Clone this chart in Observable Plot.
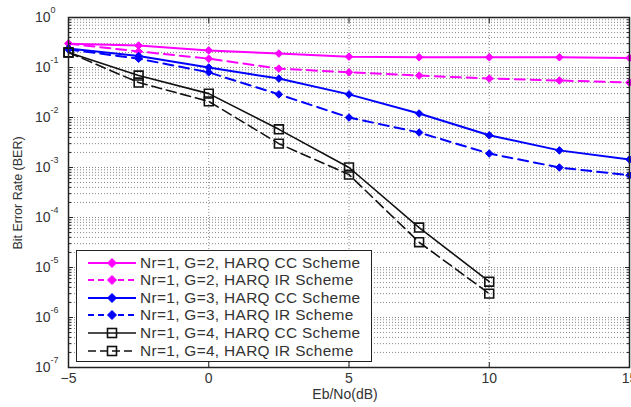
<!DOCTYPE html>
<html><head><meta charset="utf-8">
<script src="https://cdn.jsdelivr.net/npm/d3@7"></script>
<script src="https://cdn.jsdelivr.net/npm/@observablehq/plot@0.6"></script>
<style>
body{margin:0;background:#fff;font-family:"Liberation Sans",Arial,Helvetica,sans-serif;}
#wrap{position:relative;width:631px;height:407px;overflow:hidden;}
#legend{position:absolute;left:76px;top:250px;width:296px;height:112px;border:1.5px solid #222;background:#fff;box-sizing:border-box;}
.row{position:absolute;left:0;height:16px;}
.row svg{position:absolute;left:9px;top:0;}
.row span{position:absolute;left:63px;top:0;font-size:14px;line-height:16px;color:#333;white-space:nowrap;letter-spacing:0.3px;transform:scaleX(1.1);transform-origin:0 50%;}
#xlab{position:absolute;left:295px;width:100px;top:386px;text-align:center;font-size:14px;color:#333;}
#ylab{position:absolute;left:18px;top:193px;transform:translate(-50%,-50%) rotate(-90deg);font-size:12.5px;color:#333;white-space:nowrap;}
</style></head><body><div id="wrap"></div>
<script>
// Eb/No (dB) sample points
const ebno = [-5, -2.5, 0, 2.5, 5, 7.5, 10, 12.5, 15];
// BER values
const g2CC = [0.30, 0.275, 0.22, 0.19, 0.165, 0.16, 0.16, 0.16, 0.155];
const g2IR = [0.30, 0.21, 0.15, 0.095, 0.08, 0.069, 0.06, 0.055, 0.05];
const g3CC = [0.24, 0.17, 0.10, 0.06, 0.029, 0.012, 0.0044, 0.0022, 0.00145];
const g3IR = [0.23, 0.15, 0.08, 0.029, 0.01, 0.005, 0.0019, 0.001, 0.0007];
const g4CC = [0.20, 0.069, 0.03, 0.0058, 0.001, 6.3e-5, 5.2e-6];
const g4IR = [0.20, 0.05, 0.021, 0.003, 0.00072, 3.2e-5, 3.0e-6];
const seriesNames = [
  "Nr=1, G=2, HARQ CC Scheme",
  "Nr=1, G=2, HARQ IR Scheme",
  "Nr=1, G=3, HARQ CC Scheme",
  "Nr=1, G=3, HARQ IR Scheme",
  "Nr=1, G=4, HARQ CC Scheme",
  "Nr=1, G=4, HARQ IR Scheme"
];
const xTicks = [-5, 0, 5, 10, 15];
const yExponents = [0, -1, -2, -3, -4, -5, -6, -7];

const styles = [
  {color: "#ff00ff", dash: null, symbol: "diamond2", width: 2},
  {color: "#ff00ff", dash: "10,6", symbol: "diamond2", width: 2},
  {color: "#0000ff", dash: null, symbol: "diamond2", width: 2},
  {color: "#0000ff", dash: "10,6", symbol: "diamond2", width: 2},
  {color: "#111111", dash: null, symbol: "square", width: 1.6},
  {color: "#111111", dash: "10,5", symbol: "square", width: 1.6}
];
const allSeries = [g2CC, g2IR, g3CC, g3IR, g4CC, g4IR];
const tables = allSeries.map((vals, i) => vals.map((v, j) => ({x: ebno[j], y: v, s: seriesNames[i]})));

const majors = yExponents.map(e => Math.pow(10, e));
const minors = [];
for (let e = -7; e < 0; e++) for (let m = 2; m <= 9; m++) minors.push(m * Math.pow(10, e));
const gridY = majors.concat(minors);
const sup = e => String(e);

const marks = [
  Plot.ruleY(gridY, {stroke: "#8a8a8a", strokeDasharray: "1,2", strokeWidth: 1}),
  Plot.ruleX([0, 5, 10], {stroke: "#8a8a8a", strokeDasharray: "1,2", strokeWidth: 1})
];
tables.forEach((t, i) => {
  const st = styles[i];
  marks.push(Plot.line(t, {x: "x", y: "y", stroke: st.color, strokeWidth: st.width, strokeDasharray: st.dash}));
});
tables.forEach((t, i) => {
  const st = styles[i];
  if (st.symbol === "square") {
    marks.push(Plot.dot(t, {x: "x", y: "y", symbol: "square", r: 5, fill: "none", stroke: st.color, strokeWidth: 1.6}));
  } else {
    marks.push(Plot.dot(t, {x: "x", y: "y", symbol: "diamond2", r: 3.4, fill: st.color, stroke: st.color, strokeWidth: 1}));
  }
});
marks.push(
  Plot.frame({stroke: "#222", strokeWidth: 1.5}),
  Plot.axisX({anchor: "bottom", ticks: xTicks, tickSize: 0, tickPadding: 6, fontSize: 14, label: null, color: "#333"}),
  Plot.axisX({anchor: "bottom", ticks: xTicks, tickSize: -5, tickFormat: () => "", label: null, stroke: "#222"}),
  Plot.axisX({anchor: "top", ticks: xTicks, tickSize: -5, tickFormat: () => "", label: null, stroke: "#222"}),
  Plot.axisY({anchor: "left", ticks: majors, tickSize: -5, tickFormat: () => "", label: null, stroke: "#222"}),
  Plot.axisY({anchor: "right", ticks: majors, tickSize: -5, tickFormat: () => "", label: null, stroke: "#222"}),
  Plot.axisY({anchor: "left", ticks: minors, tickSize: -3, tickFormat: () => "", label: null, stroke: "#222"}),
  Plot.axisY({anchor: "right", ticks: minors, tickSize: -3, tickFormat: () => "", label: null, stroke: "#222"}),
  Plot.text(majors, {x: () => -5, y: d => d, text: () => "10", textAnchor: "end", dx: -18, fontSize: 14, fill: "#333"}),
  Plot.text(majors, {x: () => -5, y: d => d, text: d => sup(Math.round(Math.log10(d))), textAnchor: "start", dx: -18, dy: -7, fontSize: 9, fill: "#333"})
);

const chart = Plot.plot({
  width: 631, height: 407,
  marginLeft: 68, marginRight: 2, marginTop: 17, marginBottom: 40,
  style: {fontFamily: '"Liberation Sans", Arial, sans-serif', background: "#fff", overflow: "hidden"},
  x: {domain: [-5, 15]},
  y: {type: "log", domain: [1e-7, 1]},
  marks
});
const wrap = document.getElementById("wrap");
wrap.appendChild(chart);

// legend
const legend = document.createElement("div");
legend.id = "legend";
const rowTops = [4, 21, 39, 56, 74, 92];
seriesNames.forEach((name, i) => {
  const st = styles[i];
  const row = document.createElement("div");
  row.className = "row";
  row.style.top = rowTops[i] + "px";
  const ns = "http://www.w3.org/2000/svg";
  const svg = document.createElementNS(ns, "svg");
  svg.setAttribute("width", 52); svg.setAttribute("height", 16);
  const line = document.createElementNS(ns, "line");
  line.setAttribute("x1", 2); line.setAttribute("x2", 50); line.setAttribute("y1", 8); line.setAttribute("y2", 8);
  line.setAttribute("stroke", st.color); line.setAttribute("stroke-width", st.width);
  if (st.dash) line.setAttribute("stroke-dasharray", i < 4 ? "6,4" : "8,4");
  svg.appendChild(line);
  if (st.symbol === "square") {
    const r = document.createElementNS(ns, "rect");
    r.setAttribute("x", 21.5); r.setAttribute("y", 3.5); r.setAttribute("width", 9); r.setAttribute("height", 9);
    r.setAttribute("fill", "none"); r.setAttribute("stroke", st.color); r.setAttribute("stroke-width", 1.6);
    svg.appendChild(r);
  } else {
    const p = document.createElementNS(ns, "path");
    p.setAttribute("d", "M26,3.5L30.5,8L26,12.5L21.5,8Z");
    p.setAttribute("fill", st.color); p.setAttribute("stroke", st.color);
    svg.appendChild(p);
  }
  row.appendChild(svg);
  const span = document.createElement("span");
  span.textContent = name;
  row.appendChild(span);
  legend.appendChild(row);
});
wrap.appendChild(legend);

const xl = document.createElement("div"); xl.id = "xlab"; xl.textContent = "Eb/No(dB)"; wrap.appendChild(xl);
const yl = document.createElement("div"); yl.id = "ylab"; yl.textContent = "Bit Error Rate (BER)"; wrap.appendChild(yl);
</script>
</body></html>
